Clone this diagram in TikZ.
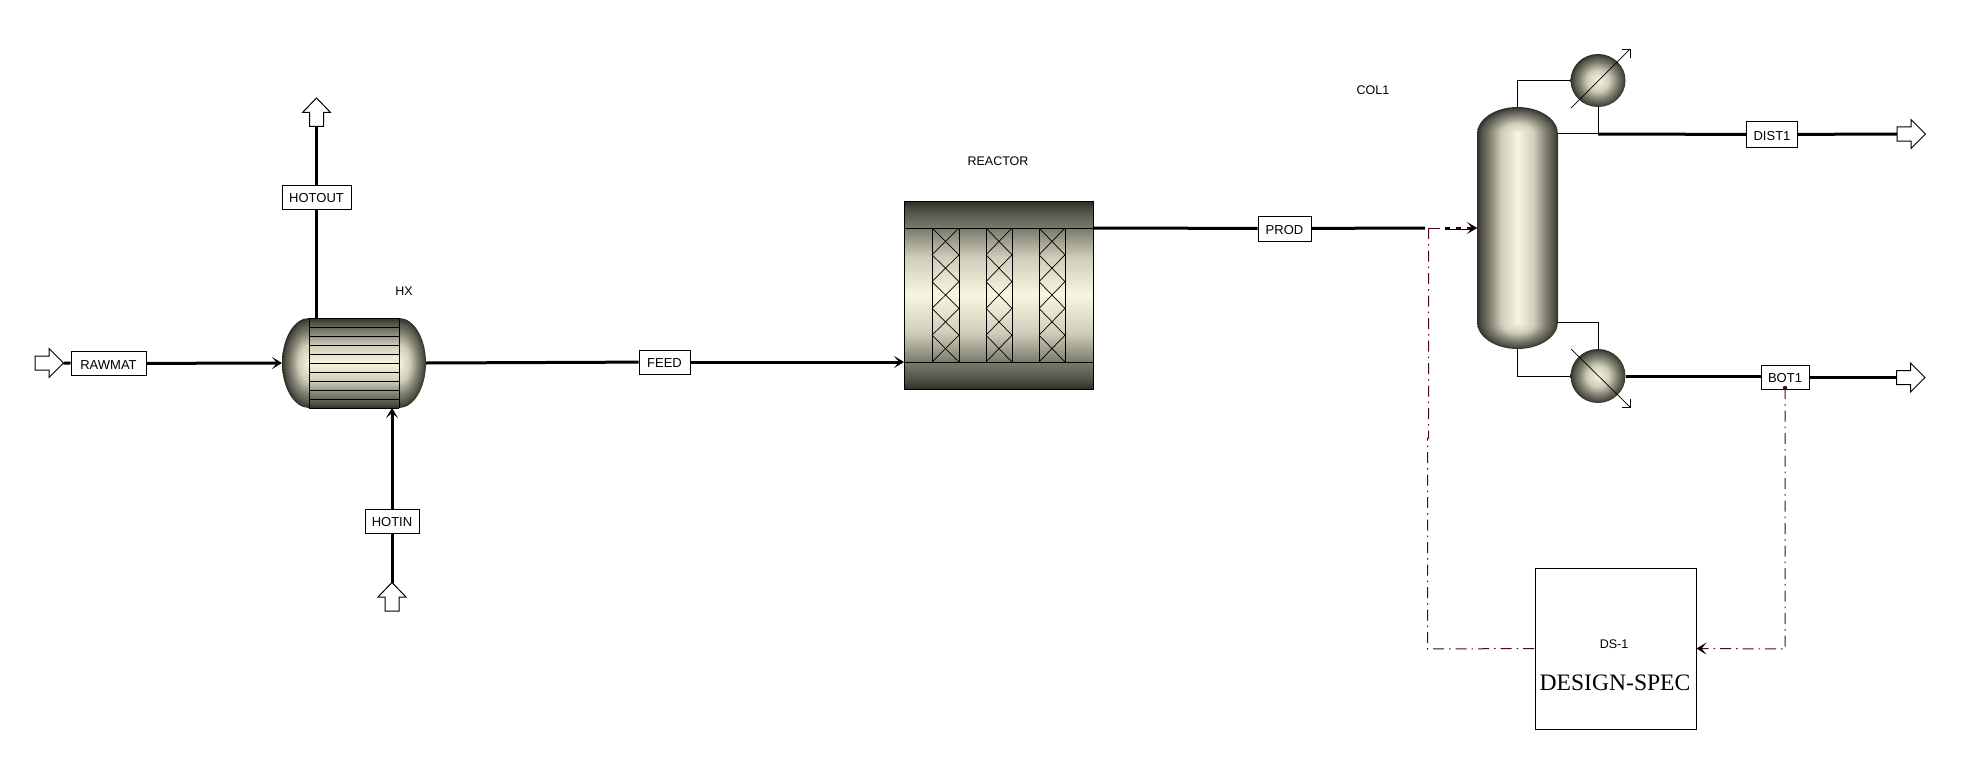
\documentclass[tikz,border=0pt]{standalone}
\usepackage{fontspec}
\setmainfont{Liberation Sans}
\newfontfamily\tnr{Liberation Serif}
\usetikzlibrary{arrows.meta}
\definecolor{pa}{HTML}{F7F6E0}
\definecolor{pb}{HTML}{CFCEBA}
\definecolor{pc}{HTML}{7E7E6F}
\definecolor{pd}{HTML}{505046}
\definecolor{pe}{HTML}{2E2E28}
\definecolor{sigred}{HTML}{4A0818}
\pgfdeclarehorizontalshading{eqh}{100bp}{color(0bp)=(pe);color(25bp)=(pe);color(27.5bp)=(pd);color(32.5bp)=(pc);color(40bp)=(pb);color(50bp)=(pa);color(60bp)=(pb);color(67.5bp)=(pc);color(72.5bp)=(pd);color(75bp)=(pe);color(100bp)=(pe)}
\pgfdeclareverticalshading{eqv}{100bp}{color(0bp)=(pe);color(25bp)=(pe);color(27.5bp)=(pd);color(32.5bp)=(pc);color(40bp)=(pb);color(50bp)=(pa);color(60bp)=(pb);color(67.5bp)=(pc);color(72.5bp)=(pd);color(75bp)=(pe);color(100bp)=(pe)}
\pgfdeclareradialshading{eqr}{\pgfpoint{0bp}{0bp}}{color(0bp)=(pa);color(10bp)=(pb);color(17.5bp)=(pc);color(22.5bp)=(pd);color(25bp)=(pe);color(50bp)=(pe)}
\tikzset{
  x=1pt,y=-1pt,
  stream/.style={line width=3pt,draw=black},
  feedtip/.style={-{Stealth[length=10pt,width=12pt,inset=5pt]}},
  thinline/.style={line width=1pt,draw=black},
  fineline/.style={line width=0.7pt,draw=black},
  tag/.style={draw=black,line width=1pt,fill=white,inner sep=0pt,minimum height=24pt,text height=11pt,text depth=0pt,font=\fontsize{13}{15}\selectfont},
  lab/.style={inner sep=0pt,font=\fontsize{12.5}{14}\selectfont},
  hidden/.style={inner sep=0pt,outer sep=0pt,draw=none},
  port/.style={draw=black,line width=1pt,fill=white,line join=miter},
  signal/.style={line width=1pt,draw=sigred,dash pattern=on 11pt off 5pt on 1.5pt off 5pt}
}
\newcommand{\portright}[1]{\draw[port,shift={(#1)}] (0,-7)--(14,-7)--(14,-14.5)--(28.5,0)--(14,14.5)--(14,7)--(0,7)--cycle;}
\newcommand{\portup}[1]{\draw[port,shift={(#1)}] (-7,0)--(-7,-14)--(-14,-14)--(0,-28.5)--(14,-14)--(7,-14)--(7,0)--cycle;}
\begin{document}
\begin{tikzpicture}
\useasboundingbox (0,0) rectangle (1988,773);
% ---- equipment anchors
\node[hidden,minimum width=144pt,minimum height=90pt] (HX) at (354,363) {};
\node[hidden,minimum width=189pt,minimum height=188pt] (RX) at (998.5,295) {};
\node[hidden,minimum width=81pt,minimum height=242pt] (COL) at (1517.5,228) {};
\node[hidden,minimum width=55pt,minimum height=53pt] (COND) at (1598,80.5) {};
\node[hidden,minimum width=55pt,minimum height=54pt] (REB) at (1598,376) {};
% ---- tags
\node[tag,minimum width=75pt] (RAWMAT) at (108.5,363.5) {RAWMAT};
\node[tag,minimum width=69pt] (HOTOUT) at (316.5,197) {HOTOUT};
\node[tag,minimum width=54pt] (HOTIN) at (392,521) {HOTIN};
\node[tag,minimum width=51pt] (FEED) at (664.5,362) {FEED};
\node[tag,minimum width=53pt,minimum height=25pt] (PROD) at (1284.5,228.5) {PROD};
\node[tag,minimum width=51pt,minimum height=25pt] (DIST1) at (1772,134.5) {DIST1};
\node[tag,minimum width=48pt] (BOT1) at (1785,377) {BOT1};
\node[draw=black,line width=1pt,fill=white,minimum width=161pt,minimum height=161pt,inner sep=0pt] (DS) at (1615.5,648.5) {};
% ---- labels
\node[lab] (HXlab) at (404,291) {HX};
\node[lab] (RXlab) at (998,161) {REACTOR};
\node[lab] (COLlab) at (1373,90) {COL1};
\node[lab] (DSlab) at (1614,644) {DS-1};
\node[inner sep=0pt,font=\fontsize{23.6}{26}\tnr\selectfont] (DStype) at (1615,683) {DESIGN-SPEC};
% ---- named free ends
\coordinate (inport) at (35,363);
\coordinate (intip) at (63.5,363);
\coordinate (outport) at (316.5,126.5);
\coordinate (hotinport) at (392,611);
\coordinate (distport) at (1897,134);
\coordinate (botport) at (1896.5,377.5);
\coordinate (ovhd) at (1598,134);
\coordinate (prodend) at (1425,228);
\coordinate (prodrestart) at (1445,228);
\coordinate (whitestart) at (1450,228);
\coordinate (whiteend) at (1467,228);
\coordinate (sigturn) at (1428.5,228);
\coordinate (sigstep) at (1428.5,438);
\coordinate (sigstepb) at (1427.5,438);
\coordinate (sigcorner) at (1427.5,649);
\coordinate (specturn) at (1785,649);
\coordinate (botdot) at (1785,388);
\coordinate (colovhd) at (1517.5,80.5);
\coordinate (colbot) at (1517.5,376);
\coordinate (rebtop) at (1598,322);
% ---- thin column piping
\draw[thinline] (COL.north) -- (colovhd) -- (COND.west);
\draw[thinline] (COND.south) -- (ovhd) -- (COL.east |- ovhd);
\draw[thinline] (COL.east |- rebtop) -- (rebtop) -- (REB.north);
\draw[thinline] (COL.south) -- (colbot) -- (REB.west);
% ---- streams
\draw[stream] (intip) -- (RAWMAT);
\draw[stream,feedtip] (RAWMAT) -- (HX.west);
\draw[stream] (HOTOUT) -- (outport);
\draw[stream] (HOTOUT) -- (HOTOUT |- HX.north);
\draw[stream] (hotinport) -- (HOTIN);
\draw[stream,feedtip] (HOTIN) -- (HOTIN |- HX.south);
\draw[stream] (HX.east) -- (FEED);
\draw[stream,feedtip] (FEED) -- (RX.west |- FEED);
\draw[stream] (RX.east |- prodend) -- (PROD);
\draw[stream] (PROD) -- (prodend);
\draw[stream,feedtip] (prodrestart) -- (COL.west |- prodrestart);
\draw[stream] (ovhd) -- (DIST1);
\draw[stream] (DIST1) -- (distport);
\draw[stream] (REB.east) -- (BOT1.west |- REB.east);
\draw[stream] (BOT1.east |- botport) -- (botport);
% ---- ports
\portright{inport}
\portup{outport}
\portup{hotinport}
\portright{distport}
\portright{botport}
% ---- heat exchanger
\begin{scope}
\clip (282,318) rectangle (309,408);
\path[shading=eqr] (309,363) ellipse [x radius=27,y radius=45];
\end{scope}
\begin{scope}
\clip (399,318) rectangle (426,408);
\path[shading=eqr] (399,363) ellipse [x radius=27,y radius=45];
\end{scope}
\path[shading=eqv] (309,318) rectangle (399,408);
\foreach \k in {0,...,10} {\draw[fineline] (309,318+9*\k) -- (399,318+9*\k);}
\draw[fineline] (309,318) -- (309,408) (399,318) -- (399,408);
% ---- reactor
\path[shading=eqv] (904,201) rectangle (1093,389);
\draw[thinline] (904,201) rectangle (1093,389);
\draw[fineline] (904,228) -- (1093,228) (904,362) -- (1093,362);
\foreach \xa/\xb in {932/959,986/1012,1039/1065} {
  \draw[fineline] (\xa,228) -- (\xa,362) (\xb,228) -- (\xb,362);
  \foreach \r in {0,...,4} {
    \draw[fineline] (\xa,228+26.8*\r) -- (\xb,228+26.8*\r+26.8);
    \draw[fineline] (\xb,228+26.8*\r) -- (\xa,228+26.8*\r+26.8);
  }
}
% ---- column
\begin{scope}
\clip (1477,107) rectangle (1558,134);
\path[shading=eqr] (1517.5,134) ellipse [x radius=40.5,y radius=27];
\end{scope}
\begin{scope}
\clip (1477,322) rectangle (1558,349);
\path[shading=eqr] (1517.5,322) ellipse [x radius=40.5,y radius=27];
\end{scope}
\path[shading=eqh] (1477,134) rectangle (1558,322);
% ---- condenser and reboiler
\path[shading=eqr] (1598,80.5) ellipse [x radius=27.5,y radius=26.5];
\draw[fineline] (1571,108) -- (1630,49);
\draw[fineline] (1622,49) -- (1630,49) -- (1630,58);
\path[shading=eqr] (1598,376) ellipse [x radius=27.5,y radius=27];
\draw[fineline] (1571,349) -- (1630,407);
\draw[fineline] (1630,399) -- (1630,407) -- (1622,407);
% ---- signals
\draw[signal] (sigturn) -- (sigstep) -- (sigstepb) -- (sigcorner) -- (DS.west);
\draw[signal] (sigturn) -- (COL.west |- sigturn);
\draw[white,line width=1.6pt,dash pattern=on 6pt off 5pt] (whitestart) -- (whiteend);
\fill[sigred] (botdot) circle (2.2);
\draw[signal,-{Stealth[length=10pt,width=12pt,inset=5pt,black]}] (botdot) -- (specturn) -- (DS.east);
\end{tikzpicture}
\end{document}
